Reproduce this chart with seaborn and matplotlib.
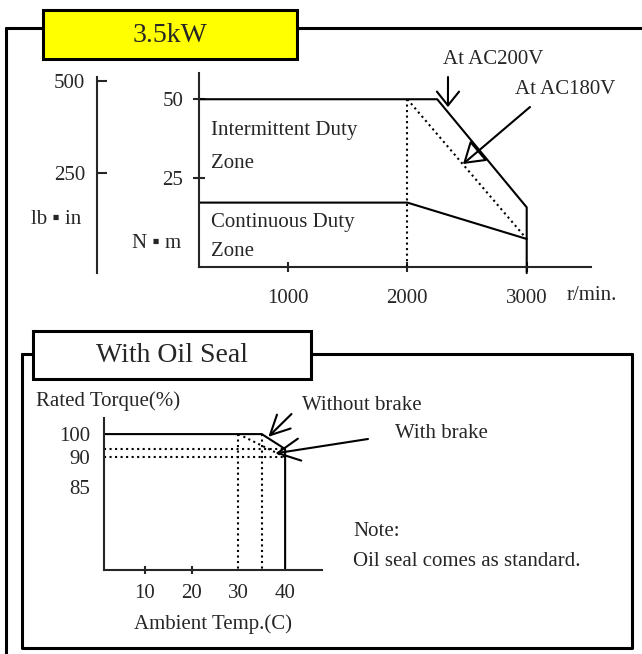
import matplotlib
matplotlib.use('Agg')
import matplotlib.pyplot as plt
from matplotlib.patches import Rectangle
import numpy as np
import seaborn as sns

sns.set_style('ticks')
plt.rcParams['font.family'] = ['Liberation Serif', 'DejaVu Sans']

# ---- top chart: torque vs speed (3.5kW) ----
rpm_ticks = [1000, 2000, 3000]
nm_ticks = [25, 50]
lbin_ticks = [250, 500]
peak200_rpm = [254, 2250, 3000, 3000]     # intermittent zone, AC200V
peak200_nm = [50, 50, 15.8, -5]
peak180_rpm = [2000, 3000]                # intermittent zone, AC180V (dotted)
peak180_nm = [50, 5.8]
cont_rpm = [254, 2000, 3000]              # continuous zone
cont_nm = [17.3, 17.3, 5.8]

# ---- bottom chart: rated torque vs ambient temp ----
temp_ticks = [10, 20, 30, 40]
pct_ticks = [85, 90, 100]
nobrake_temp = [1.2, 35, 40, 40]
nobrake_pct = [100, 100, 93.5, 60]
brake_temp = [30, 40]
brake_pct = [100, 90]
knee_temp = [30, 35]       # dotted guide verticals
end_pct = [93.5, 90]       # dotted guide horizontals

W, H = 642, 654
fig = plt.figure(figsize=(W / 100, H / 100), dpi=100)
FS = 15
BIG = 20
LW = 1.5

bg = fig.add_axes([0, 0, 1, 1])
bg.set_xlim(0, W)
bg.set_ylim(H, 0)
bg.axis('off')


def px_axes(l, t, r, b):
    ax = fig.add_axes([l / W, 1 - b / H, (r - l) / W, (b - t) / H])
    ax.set_facecolor('none')
    return ax


def line(ax, x, y, ls='-'):
    sns.lineplot(x=x, y=y, ax=ax, color='black', linewidth=LW, linestyle=ls,
                 estimator=None, sort=False)


def arrow(ax, xy, start, style, fc='none'):
    ax.annotate('', xy=xy, xycoords='data', xytext=start, textcoords=bg.transData,
                arrowprops=dict(arrowstyle=style, lw=LW, fc=fc, ec='k',
                                mutation_scale=20, shrinkA=0, shrinkB=0),
                annotation_clip=False)


# frames
fl = 2.2
bg.plot([6, 6], [28, H], color='k', lw=fl)
bg.plot([6, 43], [28, 28], color='k', lw=fl)
bg.plot([297, W], [28, 28], color='k', lw=fl)
bg.add_patch(Rectangle((43, 10), 254, 49, fc='#ffff00', ec='k', lw=fl))
bg.text(170, 35, '3.5kW', fontsize=BIG, ha='center', va='center')

bg.plot([22, 22, 632, 632], [354, 648, 648, 354], color='k', lw=fl)
bg.plot([22, 33], [354, 354], color='k', lw=fl)
bg.plot([311, 632], [354, 354], color='k', lw=fl)
bg.add_patch(Rectangle((33, 331), 278, 48, fc='white', ec='k', lw=fl))
bg.text(172, 355, 'With Oil Seal', fontsize=BIG, ha='center', va='center')

# ---- top chart ----
ax0 = px_axes(97, 77, 110, 273)
ax0.set_ylim(-20, 510.8)
ax0.set_yticks(lbin_ticks)
ax0.set_xticks([])
for s in ['top', 'right', 'bottom']:
    ax0.spines[s].set_visible(False)
ax0.spines['left'].set_linewidth(LW)
ax0.tick_params(axis='y', direction='in', length=7.2, width=LW, pad=8.6, labelsize=FS)

ax1 = px_axes(199, 73, 591, 267)
line(ax1, peak200_rpm, peak200_nm)
line(ax1, cont_rpm, cont_nm)
line(ax1, peak180_rpm, peak180_nm, ':')
line(ax1, [2000, 2000], [50, -3.07], ':')
for ln in ax1.lines:
    ln.set_clip_on(False)
ax1.set_xlim(254.3, 3538.7)
ax1.set_ylim(-3.07, 58.3)
ax1.set_xticks(rpm_ticks)
ax1.set_yticks(nm_ticks)
sns.despine(ax=ax1)
for s in ['left', 'bottom']:
    ax1.spines[s].set_linewidth(LW)
ax1.tick_params(axis='x', direction='inout', length=7.2, width=LW, pad=12, labelsize=FS)
ax1.tick_params(axis='y', direction='inout', length=8.6, width=LW, pad=7, labelsize=FS)

arrow(ax1, (2340, 47.5), (448, 77), '->,head_length=0.5,head_width=0.4')
arrow(ax1, (2466, 29.5), (530, 107), '-|>,head_length=0.65,head_width=0.42')

bg.text(56, 220, 'lb ▪ in', fontsize=FS, ha='center', va='center')
bg.text(157, 243, 'N ▪ m', fontsize=FS, ha='center', va='center')
bg.text(211, 131, 'Intermittent Duty', fontsize=FS, va='center')
bg.text(211, 163, 'Zone', fontsize=FS, va='center')
bg.text(211, 222, 'Continuous Duty', fontsize=FS, va='center')
bg.text(211, 251, 'Zone', fontsize=FS, va='center')
bg.text(567, 296, 'r/min.', fontsize=FS, va='center')
bg.text(443, 60, 'At AC200V', fontsize=FS, va='center')
bg.text(515, 90, 'At AC180V', fontsize=FS, va='center')

# ---- bottom chart ----
pct_ref = [60, 85, 90, 100, 110]
pos_ref = [0, 83, 113, 136, 159]


def fwd(v):
    return np.interp(v, pct_ref, pos_ref)


def inv(p):
    return np.interp(p, pos_ref, pct_ref)


ax2 = px_axes(104, 418, 322, 570)
ax2.set_yscale('function', functions=(fwd, inv))
line(ax2, nobrake_temp, nobrake_pct)
line(ax2, brake_temp, brake_pct, ':')
for t in knee_temp:
    line(ax2, [t, t], [100, 60], ':')
for p in end_pct:
    line(ax2, [1.2, 40], [p, p], ':')
ax2.set_xlim(1.21, 47.9)
ax2.set_ylim(60, 107)
ax2.set_xticks(temp_ticks)
ax2.set_yticks(pct_ticks)
ax2.yaxis.set_minor_locator(matplotlib.ticker.NullLocator())
sns.despine(ax=ax2)
for s in ['left', 'bottom']:
    ax2.spines[s].set_linewidth(LW)
ax2.tick_params(axis='x', direction='inout', length=5.8, width=LW, pad=7, labelsize=FS)
ax2.tick_params(axis='y', length=0, pad=10, labelsize=FS)
for tk in ax2.xaxis.get_major_ticks()[2:]:
    tk.tick1line.set_visible(False)
ax2.set_xlabel('Ambient Temp.(C)', fontsize=FS, labelpad=8)

arrow(ax2, (36.4, 98.8), (291.5, 414), '->,head_length=0.7,head_width=0.35')
arrow(ax2, (37.9, 91.6), (368, 439), '->,head_length=0.8,head_width=0.4')

bg.text(36, 401, 'Rated Torque(%)', fontsize=FS, va='center')
bg.text(302, 405, 'Without brake', fontsize=FS, va='center')
bg.text(395, 433, 'With brake', fontsize=FS, va='center')
bg.text(353, 532, 'Note:', fontsize=FS, va='center')
bg.text(353, 562, 'Oil seal comes as standard.', fontsize=FS, va='center')

fig.savefig('out.png', dpi=100)
